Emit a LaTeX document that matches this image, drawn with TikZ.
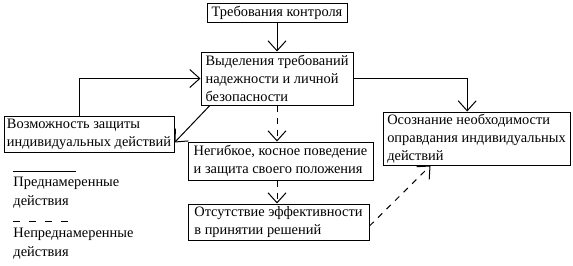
\documentclass[tikz,border=0pt]{standalone}
\usepackage{fontspec}
\setmainfont{Liberation Serif}
\usetikzlibrary{arrows.meta}

\begin{document}
\begin{tikzpicture}[x=0.75pt,y=-0.75pt,line width=0.75pt,>={Straight Barb[length=7.5pt,width=13.5pt]},
  box/.style={draw,align=left,inner xsep=1pt,inner ysep=0pt,font=\fontsize{10.8}{13.5}\selectfont},
  unplanned/.style={dash pattern=on 4.5pt off 4.5pt},
  legend/.style={align=left,anchor=north west,inner sep=0pt,font=\fontsize{10.8}{14}\selectfont}]
\useasboundingbox (0,0) rectangle (573,265);
\node[box,minimum width=105pt,minimum height=14.25pt] (ctrl) at (277,12.5) {Требования контроля};
\node[box,minimum width=114pt,minimum height=39.75pt] (req) at (277,78.5) {Выделения требований\\надежности и личной\\безопасности};
\node[box,minimum width=127.5pt,minimum height=27pt] (prot) at (89,134) {Возможность защиты\\индивидуальных действий};
\node[box,minimum width=138.75pt,minimum height=28.5pt] (rigid) at (280.5,161) {Негибкое, косное поведение\\и защита своего положения};
\node[box,minimum width=135.75pt,minimum height=27pt] (ineff) at (278.5,222) {Отсутствие эффективности\\в принятии решений};
\node[box,minimum width=140.25pt,minimum height=39.75pt] (aware) at (476.5,138.5) {Осознание необходимости\\оправдания индивидуальных\\действий};
% legend
\coordinate (s1) at (13,171); \coordinate (s2) at (76,171);
\coordinate (d1) at (13,221); \coordinate (d2) at (70,221);
\node[legend] (planned) at (13,177) {Преднамеренные\\действия};
\node[legend] (notplanned) at (13,228) {Непреднамеренные\\действия};
\draw (s1)--(s2);
\draw[dash pattern=on 5.25pt off 6.75pt] (d1)--(d2);
% deliberate
\draw[->] (ctrl)--(req);
\draw[->] ([xshift=57pt]prot.north west) |- (req.west);
\draw[->] ([xshift=7pt]req.south west)--([yshift=7.5pt]prot.south east);
\draw[->] (req.east) -| ([xshift=-7pt]aware.north);
% unintended
\draw[->,unplanned] (req.south)--(req.south |- rigid.north);
\draw[->,unplanned] (rigid.south -| req.south)--(req.south |- ineff.north);
\draw[->,unplanned] ([yshift=-3pt]ineff.east)--([xshift=36pt]aware.south west);
\end{tikzpicture}
\end{document}
